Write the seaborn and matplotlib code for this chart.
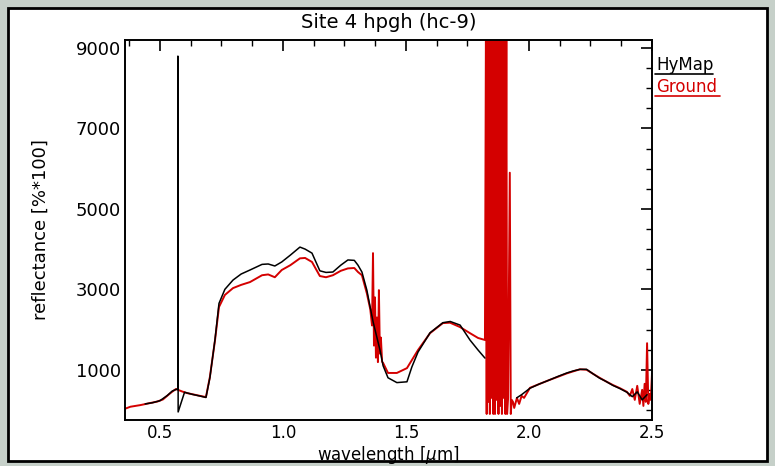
import matplotlib
matplotlib.use("Agg")
import matplotlib.pyplot as plt
import seaborn as sns
import pandas as pd
from matplotlib.lines import Line2D
from matplotlib.patches import Rectangle
from matplotlib.ticker import FixedLocator, MultipleLocator

# ground spectrometer (red)
ground_wl = [0.358, 0.38, 0.42, 0.459, 0.49, 0.512, 0.535, 0.549, 0.565, 0.59, 0.61, 0.64, 0.663, 0.687,
             0.703, 0.724, 0.74, 0.764, 0.797, 0.83, 0.866, 0.915, 0.94, 0.967, 0.995, 1.03, 1.069, 1.09,
             1.118, 1.15, 1.175, 1.203, 1.235, 1.264, 1.29, 1.305, 1.321, 1.341, 1.355, 1.362, 1.366,
             1.370, 1.374, 1.378, 1.382, 1.386, 1.390, 1.394, 1.398, 1.403, 1.407, 1.427, 1.463, 1.504,
             1.524, 1.549, 1.598, 1.65, 1.679, 1.72, 1.76, 1.793, 1.821,
             1.825, 1.828, 1.831, 1.834, 1.838, 1.841, 1.845, 1.848, 1.852, 1.855, 1.859, 1.862,
             1.866, 1.869, 1.873, 1.876, 1.880, 1.883, 1.887, 1.890, 1.894, 1.897, 1.901, 1.904,
             1.908, 1.911, 1.915, 1.922, 1.926, 1.930,
             1.935, 1.94, 1.951, 1.96, 1.97, 1.98, 2.004, 2.04, 2.085, 2.12, 2.154, 2.18, 2.207, 2.234,
             2.26, 2.287, 2.31, 2.341, 2.37, 2.398, 2.41, 2.42, 2.43, 2.44, 2.45, 2.46, 2.465, 2.47,
             2.475, 2.48, 2.485, 2.49, 2.495, 2.5]
ground_refl = [30, 80, 120, 170, 210, 260, 380, 450, 520, 460, 420, 380, 350, 320,
               820, 1740, 2560, 2860, 3030, 3110, 3180, 3350, 3370, 3300, 3480, 3600, 3770, 3780,
               3680, 3330, 3300, 3350, 3460, 3520, 3530, 3430, 3350, 2900, 2500, 2100, 3900,
               1600, 2800, 1300, 2300, 1190, 2980, 1400, 1800, 1200, 1170, 920, 920, 1040,
               1240, 1490, 1910, 2160, 2170, 2060, 1910, 1790, 1740,
               9600, -100, 9600, 200, 9600, -100, 9600, 300, 9600, -100, 9600, -100,
               9600, 250, 9600, -100, 9600, 100, 9600, -100, 9600, 300, 9600, -100,
               9600, -100, 300, 5900, -100, 250,
               200, 50, 300, 150, 350, 300, 550, 640, 750, 830, 910, 960, 1010, 1000,
               900, 800, 720, 620, 540, 450, 350, 520, 250, 600, 150, 500, 100, 650,
               200, 1660, 150, 400, 250, 900]

# HyMap (black), two segments either side of the 1.9 um water band
hymap_wl = [0.44, 0.47, 0.50, 0.53, 0.55, 0.57, 0.573, 0.573, 0.574, 0.60, 0.63, 0.66, 0.687, 0.703,
            0.724, 0.74, 0.764, 0.797, 0.83, 0.866, 0.915, 0.94, 0.967, 0.995, 1.03, 1.069, 1.09,
            1.118, 1.15, 1.175, 1.203, 1.235, 1.264, 1.29, 1.305, 1.321, 1.341, 1.366, 1.394, 1.407,
            1.427, 1.463, 1.504, 1.524, 1.549, 1.598, 1.65, 1.68, 1.72, 1.76, 1.793, 1.821,
            1.95, 1.97, 2.004, 2.04, 2.085, 2.12, 2.154, 2.18, 2.207, 2.234, 2.26, 2.287, 2.31,
            2.341, 2.37, 2.398, 2.42, 2.44, 2.46, 2.48]
hymap_refl = [150, 180, 230, 360, 470, 520, 510, 8800, -50, 440, 390, 350, 310, 800,
              1760, 2650, 3000, 3230, 3380, 3480, 3620, 3630, 3580, 3680, 3850, 4050, 4000,
              3900, 3460, 3420, 3430, 3600, 3730, 3720, 3600, 3430, 2980, 2200, 1500, 1100,
              800, 680, 700, 1070, 1440, 1920, 2170, 2200, 2110, 1740, 1490, 1290,
              300, 380, 540, 640, 750, 840, 920, 970, 1010, 1010, 900, 790, 720,
              610, 530, 440, 330, 450, 250, 380]
hymap_seg = [0] * 52 + [1] * 20

y_ticks = [1000, 3000, 5000, 7000, 9000]

ground = pd.DataFrame({"wl": ground_wl, "refl": ground_refl})
hymap = pd.DataFrame({"wl": hymap_wl, "refl": hymap_refl, "seg": hymap_seg})

sns.set_theme(style="white")
plt.rcParams["font.family"] = ["DejaVu Sans"]
plt.rcParams["text.color"] = "black"
plt.rcParams["axes.labelcolor"] = "black"

RED = "#d40000"
BG = "#c6d0c9"

fig = plt.figure(figsize=(7.75, 4.66), dpi=100, facecolor=BG)
fig.add_artist(Rectangle((8 / 775, 5 / 466), 759 / 775, 453 / 466, transform=fig.transFigure,
                         facecolor="white", edgecolor="black", lw=2, zorder=-5))
ax = fig.add_axes([125 / 775, 46 / 466, 527 / 775, 380 / 466])

sns.lineplot(data=ground, x="wl", y="refl", sort=False, estimator=None, color=RED, lw=1.4, ax=ax)
sns.lineplot(data=hymap, x="wl", y="refl", units="seg", sort=False, estimator=None, color="black",
             lw=1.1, ax=ax)

ax.set_xlim(0.358, 2.5)
ax.set_ylim(-250, 9200)
ax.xaxis.set_major_locator(MultipleLocator(0.5))
ax.xaxis.set_minor_locator(MultipleLocator(0.125))
ax.yaxis.set_major_locator(FixedLocator(y_ticks))
ax.yaxis.set_minor_locator(MultipleLocator(500))
ax.set_xticklabels([f"{v:.1f}" for v in ax.get_xticks()])
ax.tick_params(which="both", direction="in", top=True, right=True, colors="black",
               labelcolor="black", labelsize=13)
ax.tick_params(axis="x", labelsize=12)
ax.tick_params(which="major", length=8, width=1.2, pad=3)
ax.tick_params(which="minor", length=4, width=1)
for s in ax.spines.values():
    s.set_color("black")
    s.set_linewidth(1.4)

ax.set_xlabel("wavelength [$\\mu$m]", fontsize=12, color="black", va="center")
ax.set_ylabel("reflectance [%*100]", fontsize=13, color="black")
ax.xaxis.set_label_coords(0.5, -0.092)
ax.yaxis.set_label_coords(-0.142, 0.5)
ax.text(0.5, 1.047, "Site 4 hpgh (hc-9)", transform=ax.transAxes, ha="center", va="center",
        fontsize=14, color="black")

# legend: labels with line samples under them
fig.text(656 / 775, 1 - 65 / 466, "HyMap", color="black", fontsize=12, va="center")
fig.add_artist(Line2D([655 / 775, 713 / 775], [1 - 74 / 466] * 2, color="black", lw=1.2))
fig.text(656 / 775, 1 - 87 / 466, "Ground", color=RED, fontsize=12, va="center")
fig.add_artist(Line2D([655 / 775, 720 / 775], [1 - 96 / 466] * 2, color=RED, lw=1.2))

plt.savefig("out.png", dpi=100, facecolor=BG)
